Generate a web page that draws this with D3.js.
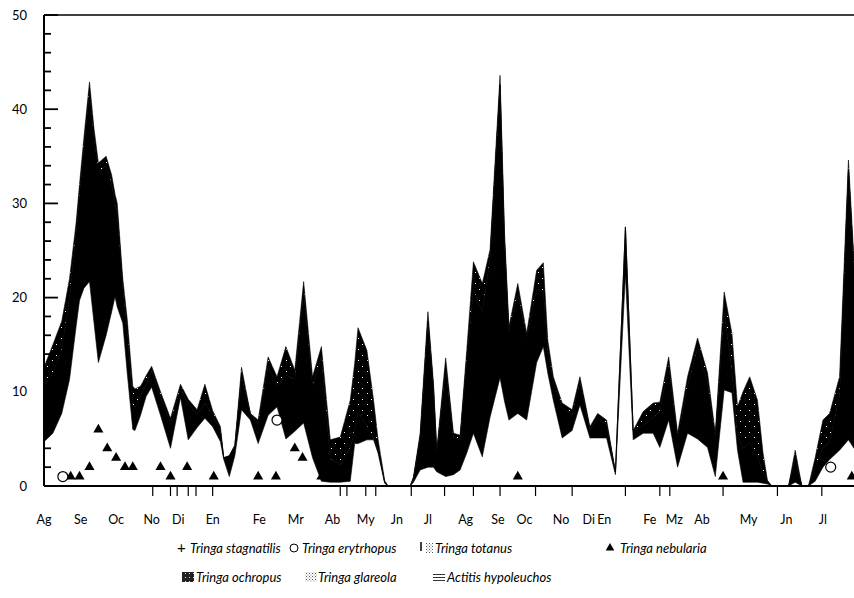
<!DOCTYPE html>
<html>
<head>
<meta charset="utf-8">
<script src="https://cdn.jsdelivr.net/npm/d3@7/dist/d3.min.js"></script>
<style>
  html, body { margin: 0; padding: 0; background: #fff; }
  svg { display: block; }
  text { font-family: Lato, "Open Sans", sans-serif; fill: #000; }
</style>
</head>
<body>
<svg id="chart" width="854" height="598"></svg>
<script>
// Survey day (days since the first August count) for each census
const days = [0, 8, 16, 23, 29, 32, 36, 41, 45, 49, 56, 61, 64, 66, 71, 75, 80, 82, 87, 92,
  97, 105, 114, 123, 130, 138, 145, 152, 159, 162, 167, 172, 178, 186, 193, 202, 210, 218, 226, 234,
  242, 250, 258, 267, 276, 280, 283, 291, 297, 301, 307, 310,
  330, 333, 339, 346, 351, 354, 362, 369, 375, 381, 387, 395, 402, 411, 415, 419, 427, 435,
  444, 450, 454, 459, 467, 476, 483, 492, 499, 507, 515, 524, 531, 540, 549, 555, 563, 571,
  580, 589, 598, 605, 613, 620, 625, 630, 636, 643, 648, 652, 656, 671, 677, 683, 689, 695,
  702, 708, 717, 725, 730];

// Actitis hypoleucos (bottom layer)
const actitis = [4.7, 5.6, 7.7, 11.3, 17, 19.7, 21, 21.7, 17.4, 13.1, 16, 18.5, 20.1, 19, 17.3, 12, 6, 5.9, 7.5, 9.5,
  10.5, 7.5, 4.0, 9.4, 4.9, 6.2, 7.2, 6.3, 4.7, 2.8, 1.0, 3.2, 8.1, 7.0, 4.5, 7.5, 8.4, 5.0, 5.8, 6.7,
  3.0, 0.5, 0.4, 0.4, 0.5, 4.5, 4.5, 4.9, 4.9, 3.5, 0.3, 0,
  0, 0.4, 1.7, 2.0, 2.0, 1.5, 1.0, 1.2, 1.7, 3.5, 5.6, 3.1, 7.3, 11.5, 9, 7.0, 7.7, 7.0,
  13.1, 14.8, 12, 9.1, 5.1, 5.9, 8.6, 5.1, 5.1, 5.1, 1.2, 22.5, 4.9, 5.6, 5.6, 4.1, 7.0, 2.0,
  5.6, 5.0, 4.1, 1.0, 10.2, 9.9, 3.8, 0.4, 0.4, 0.4, 0.3, 0.2, 0, 0, 0.4, 0, 0, 0.5,
  2, 2.8, 3.8, 4.9, 4];

// Tringa ochropus (middle layer)
const ochropus = [5.9, 6.4, 6.8, 8.7, 10, 11.3, 15, 20.2, 19.6, 20.2, 18, 13.5, 9.9, 10, 3.7, 4.7, 2.6, 2.4, 2.1, 1.2,
  1.7, 2.0, 2.7, 0.9, 3.8, 1.4, 1.6, 1.2, 1.1, 0.2, 2.2, 1.1, 3.5, 0.7, 2.0, 5.2, 2.2, 6.8, 5.5, 14,
  7.6, 13.3, 2.5, 1.8, 3.6, 1.5, 3.3, 1.5, 0.2, 0.5, 0.1, 0,
  0, 0.4, 3.4, 15.5, 8.4, 2.0, 11.6, 3.9, 3.2, 9.9, 15.2, 15.4, 16.8, 31.1, 17, 9.4, 12.8, 8.7,
  7.8, 5.9, 2.5, 2.0, 3.2, 1.7, 2.5, 0.9, 2.1, 1.4, 0.3, 5.0, 1.0, 0.8, 1.7, 3.8, 5.7, 3.1,
  5.0, 9.7, 6.9, 4.1, 8.4, 2.3, 1.6, 3.6, 4.2, 2.7, 1.2, 0.2, 0, 0, 2.4, 0, 0, 1.5,
  2.0, 1.9, 5.8, 28.7, 19];

// Tringa glareola (top layer)
const glareola = [2, 3, 3, 2, 1, 1, 1, 1, 1, 1, 1, 1, 1, 1, 1, 1, 2, 2, 1, 1,
  0.5, 0.5, 0.5, 0.5, 0.5, 0.5, 2, 0.5, 0.5, 0, 0, 0, 1, 0, 0.5, 1, 1, 3, 1, 1,
  1, 1, 2, 3, 5, 7, 9, 8, 4, 1, 0.2, 0,
  0, 0.2, 0.5, 1, 0.5, 0.3, 1, 0.5, 0.5, 1, 3, 3, 1, 1, 1, 0.5, 1, 0.5,
  2, 3, 1, 0.5, 0.5, 0.5, 0.5, 0.3, 0.5, 0.5, 0, 0, 0, 1.5, 1.5, 1, 1, 0.5,
  1, 1, 1, 0.5, 2, 4, 3, 6, 7, 6, 2, 0.2, 0, 0, 1, 0, 0, 1,
  3, 3, 2, 1, 1];

// Point records
const erythropusDays = [17, 210, 709];
const erythropusCounts = [1, 7, 2];
const nebulariaDays = [24, 32, 41, 49, 57, 65, 73, 80, 105, 114, 129, 153, 193, 209, 226, 233, 250, 258, 427, 612, 728];
const nebulariaCounts = [1, 1, 2, 6, 4, 3, 2, 2, 2, 1, 2, 1, 1, 1, 4, 3, 1, 1, 1, 1, 1];
const totanusDays = [98, 114, 120, 130, 137, 152, 267, 273, 290, 299, 331, 361, 387, 411, 443, 476, 524, 555, 564, 612, 661, 701];

// Month labels and the day they sit on
const monthLabels = ["Ag", "Se", "Oc", "No", "Di", "En", "Fe", "Mr", "Ab", "My", "Jn", "Jl",
  "Ag", "Se", "Oc", "No", "Di", "En", "Fe", "Mz", "Ab", "My", "Jn", "Jl"];
const monthDays = [0, 33, 65, 97, 121, 152, 194, 227, 260, 290, 318, 346,
  380, 409, 433, 466, 491, 505, 546, 568, 593, 635, 669, 702];

const yTicks = [0, 10, 20, 30, 40, 50];
const layerKeys = ["actitis", "ochropus", "glareola"];

const svg = d3.select("#chart");
const x = d3.scaleLinear().domain([0, 730]).range([44, 854]);
const y = d3.scaleLinear().domain([0, 50]).range([486, 15]);

// Patterns for the layers and legend swatches
const defs = svg.append("defs");
const speck = defs.append("pattern").attr("id", "speck").attr("patternUnits", "userSpaceOnUse")
  .attr("width", 9).attr("height", 11);
speck.append("rect").attr("width", 9).attr("height", 11).attr("fill", "#000");
speck.append("rect").attr("x", 2).attr("y", 3).attr("width", 1).attr("height", 1).attr("fill", "#fff");
speck.append("rect").attr("x", 7).attr("y", 8).attr("width", 1).attr("height", 1).attr("fill", "#fff");

const stipple = defs.append("pattern").attr("id", "stipple").attr("patternUnits", "userSpaceOnUse")
  .attr("width", 3).attr("height", 3);
stipple.append("rect").attr("width", 3).attr("height", 3).attr("fill", "#fff");
stipple.append("rect").attr("width", 1).attr("height", 1).attr("fill", "#555");
stipple.append("rect").attr("x", 1.5).attr("y", 1.5).attr("width", 1).attr("height", 1).attr("fill", "#888");

const hatch = defs.append("pattern").attr("id", "hatch").attr("patternUnits", "userSpaceOnUse")
  .attr("width", 4).attr("height", 3);
hatch.append("rect").attr("width", 4).attr("height", 3).attr("fill", "#fff");
hatch.append("rect").attr("y", 1).attr("width", 4).attr("height", 1).attr("fill", "#333");

const cross = defs.append("pattern").attr("id", "cross").attr("patternUnits", "userSpaceOnUse")
  .attr("width", 4).attr("height", 4);
cross.append("rect").attr("width", 4).attr("height", 4).attr("fill", "#222");
cross.append("rect").attr("x", 1).attr("y", 1).attr("width", 1).attr("height", 1).attr("fill", "#ddd");

// Stacked areas
const rows = days.map((d, i) => ({ day: d, actitis: actitis[i], ochropus: ochropus[i], glareola: glareola[i] }));
const stacked = d3.stack().keys(layerKeys)(rows);
const area = d3.area()
  .x(d => x(d.data.day))
  .y0(d => y(d[0]))
  .y1(d => y(d[1]))
  .curve(d3.curveLinear);
const fills = { actitis: "#fff", ochropus: "#000", glareola: "url(#speck)" };
svg.append("g").selectAll("path").data(stacked).join("path")
  .attr("d", area)
  .attr("fill", s => fills[s.key])
  .attr("stroke", s => s.key === "actitis" ? "none" : "#000")
  .attr("stroke-width", 0.6);

// Frame: top rule and baseline
svg.append("line").attr("x1", 44).attr("x2", 854).attr("y1", y(50)).attr("y2", y(50))
  .attr("stroke", "#000").attr("stroke-width", 1.6);
svg.append("line").attr("x1", 44).attr("x2", 854).attr("y1", y(0)).attr("y2", y(0))
  .attr("stroke", "#000").attr("stroke-width", 2);

// Y axis with ticks pointing into the plot
const yAxis = svg.append("g");
yAxis.append("line").attr("x1", 44).attr("x2", 44).attr("y1", y(50)).attr("y2", y(0))
  .attr("stroke", "#000").attr("stroke-width", 2);
yAxis.selectAll("line.minor").data(d3.range(0, 51, 2)).join("line")
  .attr("class", "minor")
  .attr("x1", 44).attr("x2", d => d % 10 === 0 ? 58 : 51)
  .attr("y1", d => y(d)).attr("y2", d => y(d))
  .attr("stroke", "#000").attr("stroke-width", 1.8);
yAxis.selectAll("text").data(yTicks).join("text")
  .attr("x", 27).attr("y", d => y(d)).attr("dy", "0.35em")
  .attr("text-anchor", "end").attr("font-size", 13)
  .text(d => d);

// Month labels
svg.append("g").selectAll("text").data(monthLabels).join("text")
  .attr("x", (d, i) => x(monthDays[i])).attr("y", 524)
  .attr("text-anchor", "middle").attr("font-size", 12.5)
  .text(d => d);

// Tringa totanus records, marked under the baseline
svg.append("g").selectAll("line").data(totanusDays).join("line")
  .attr("x1", d => x(d)).attr("x2", d => x(d))
  .attr("y1", y(0)).attr("y2", y(0) + 10)
  .attr("stroke", "#000").attr("stroke-width", 1.2);

// Tringa nebularia
const tri = d3.symbol(d3.symbolTriangle).size(44);
svg.append("g").selectAll("path").data(nebulariaDays).join("path")
  .attr("d", tri)
  .attr("transform", (d, i) => `translate(${x(d)},${y(nebulariaCounts[i])})`)
  .attr("fill", "#000");

// Tringa erythropus
svg.append("g").selectAll("circle").data(erythropusDays).join("circle")
  .attr("cx", d => x(d)).attr("cy", (d, i) => y(erythropusCounts[i]))
  .attr("r", 5).attr("fill", "#fff").attr("stroke", "#000").attr("stroke-width", 1.2);

// Legend
const lg = svg.append("g").attr("font-size", 13).attr("font-style", "italic");
const row1 = 548, row2 = 577;
function label(xPos, yPos, txt) {
  lg.append("text").attr("x", xPos).attr("y", yPos).attr("dy", "0.35em").text(txt);
}
lg.append("text").attr("x", 177).attr("y", row1).attr("dy", "0.35em").attr("font-style", "normal").attr("font-size", 15).text("+");
label(190, row1, "Tringa stagnatilis");
lg.append("circle").attr("cx", 294).attr("cy", row1).attr("r", 4).attr("fill", "#fff").attr("stroke", "#000").attr("stroke-width", 1);
label(302, row1, "Tringa erytrhopus");
lg.append("line").attr("x1", 421).attr("x2", 421).attr("y1", row1 - 6).attr("y2", row1 + 3).attr("stroke", "#000").attr("stroke-width", 1.5);
lg.append("rect").attr("x", 426).attr("y", row1 - 5).attr("width", 7).attr("height", 10).attr("fill", "url(#stipple)");
label(435, row1, "Tringa totanus");
lg.append("path").attr("d", d3.symbol(d3.symbolTriangle).size(32))
  .attr("transform", `translate(610,${row1})`).attr("fill", "#000");
label(620, row1, "Tringa nebularia");

lg.append("rect").attr("x", 182).attr("y", row2 - 5).attr("width", 12).attr("height", 10).attr("fill", "url(#cross)");
label(196, row2, "Tringa ochropus");
lg.append("rect").attr("x", 305).attr("y", row2 - 5).attr("width", 12).attr("height", 10).attr("fill", "url(#stipple)");
label(318, row2, "Tringa glareola");
lg.append("rect").attr("x", 433).attr("y", row2 - 5).attr("width", 12).attr("height", 10).attr("fill", "url(#hatch)");
label(447, row2, "Actitis hypoleuchos");
</script>
</body>
</html>
